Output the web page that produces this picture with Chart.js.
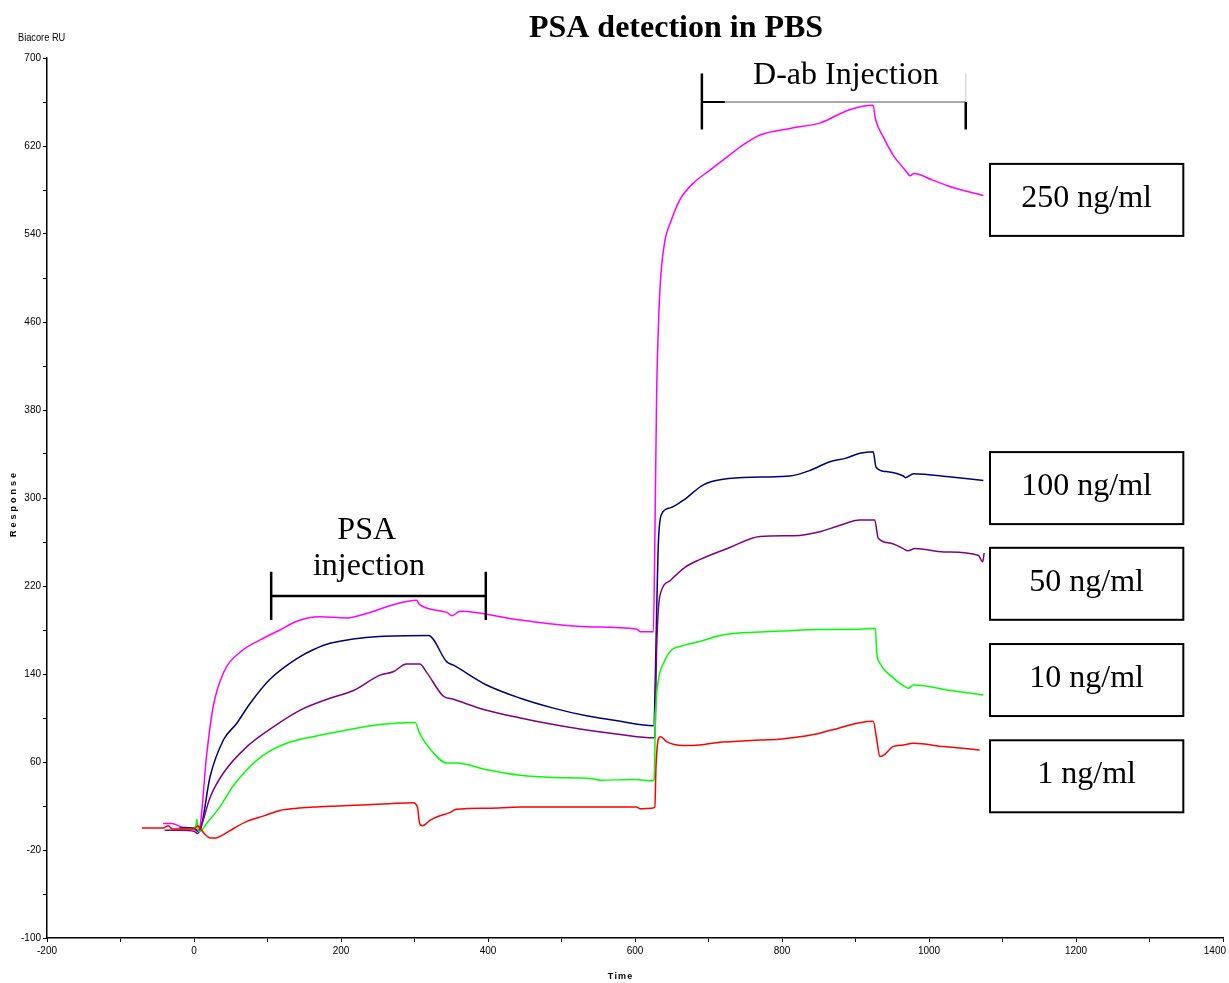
<!DOCTYPE html>
<html>
<head>
<meta charset="utf-8">
<title>PSA detection in PBS</title>
<script src="https://cdn.jsdelivr.net/npm/chart.js@4.4.1/dist/chart.umd.min.js"></script>
<style>
  html, body { margin: 0; padding: 0; background: #fff; }
  #chartPsa { display: block; }
</style>
</head>
<body>
<canvas id="chartPsa" width="1229" height="983"></canvas>
<script>
// Sensorgram points [time, RU]
const ng250 = [[-42,4],[-30,4],[-17,1],[-5,0],[5,-2],[8,1],[17,65],[26,110],[40,141],[63,160],[90,171],[117,180],[140,188],[171,192],[208,191],[235,195],[271,203],[303,207],[307,203],[344,196],[351,193],[362,197],[444,189],[534,183],[602,181],[607,178.5],[625,178.5],[627,262],[629.5,398],[632,459],[635,501],[641,535],[648,550],[661,571],[679,586],[702,598],[729,612],[747,621],[770,630],[811,636],[852,641],[892,653],[924,657],[927,645],[938,628],[951,612],[965,600],[970,596],[974,593],[980,595],[1005,589],[1029,583],[1074,575]];

const ng100 = [[-20,0],[0,0],[5,-3],[8,-2],[22,47],[40,80],[58,95],[76,113],[103,135],[140,154],[162,162],[185,168],[319,175],[344,151],[353,148],[398,130],[444,118],[489,109],[534,102],[580,97],[625,93],[632,262],[636,285],[648,291],[666,298],[693,312],[720,317],[770,319],[811,320],[838,325],[865,333],[886,336],[906,340.6],[924,342],[928,328],[942,324],[965,320],[968,318.5],[979,322],[1030,319],[1074,316]];

const ng50 = [[-40,-2],[-20,-2],[0,-3],[5,-5],[8,-2],[22,28],[40,50],[72,74],[108,92],[144,107],[185,118],[217,125],[253,139],[271,142],[289,149],[307,149],[317,141],[339,120],[353,117],[398,107],[444,100],[489,94],[534,89],[580,85],[625,82],[627,83],[629.5,165],[632,201],[636,216],[648,225],[668,237],[688,244],[729,255],[770,265],[824,266],[850,269],[878,275],[906,280],[926,280],[931,263.4],[947,259],[965,254],[971,252],[981,254],[1020,251],[1067,248],[1073,242],[1075,250]];

const ng10 = [[-22,-1],[0,-1],[3,4],[4,8],[6,-3],[8,-3],[17,4],[35,19],[53,38],[72,53],[94,66],[126,77],[162,83],[208,89],[253,94],[301,96],[307,86],[321,72],[344,59],[357,59],[398,53],[444,48],[489,46],[540,45],[553,43.5],[600,44],[625,43],[626,44],[628,104],[632,135],[639,150],[650,162],[661,165],[688,169.5],[716,175],[760,178],[797,179],[850,180.5],[906,180.6],[927,181.5],[929,159],[933,150],[947,139],[967,128.5],[972,127],[979,130],[1030,125],[1074,121]];

const ng1 = [[-71,0],[-55,0],[-42,0],[-35,2],[-29,-1],[-15,-1],[1,-1],[5,2],[8,0],[14,-5],[22,-9],[30,-9],[40,-6],[55,0],[72,6],[95,11],[117,16],[140,18],[162,19],[195,20],[230,21],[265,22],[298,23],[304,19],[307,4],[311,2],[321,7],[330,10],[348,14],[357,17],[400,18],[444,19],[490,19],[534,19],[570,19],[602,19],[607,17.6],[623,18],[627,19],[628.6,56],[632,81.5],[635,83],[643,78.5],[666,75],[688,75.5],[716,78],[745,79],[770,80],[800,81],[824,83],[850,86],[878,91],[906,95.7],[924,97],[929,80],[933,65],[938,66],[951,74],[965,75.5],[979,77],[1020,74],[1069,71]];

const concLabels = ['250 ng/ml', '100 ng/ml', '50 ng/ml', '10 ng/ml', '1 ng/ml'];
const xTickLabels = [-200, 0, 200, 400, 600, 800, 1000, 1200, 1400];
const yTickLabels = [-100, -20, 60, 140, 220, 300, 380, 460, 540, 620, 700];

const SERIF = '"Liberation Serif", "Times New Roman", serif';
const SANS_N = '"Liberation Sans Narrow", "Liberation Sans", Arial, sans-serif';

function toPoints(pairs) {
    return pairs.map(p => ({ x: p[0], y: p[1] }));
}

function lineSet(label, pairs, color) {
    return {
        label: label,
        data: toPoints(pairs),
        borderColor: color,
        borderWidth: 1.5,
        pointRadius: 0,
        fill: false,
        cubicInterpolationMode: 'monotone',
    };
}

// texto con espaciado entre letras (canvas)
function spacedText(ctx, text, x, y, spacing) {
    let total = 0;
    for (const ch of text) total += ctx.measureText(ch).width + spacing;
    total -= spacing;
    let cx = x - total / 2;
    for (const ch of text) {
        ctx.fillText(ch, cx, y);
        cx += ctx.measureText(ch).width + spacing;
    }
}

const psaDecor = {
    id: 'psaDecor',
    afterDraw(chart) {
        const ctx = chart.ctx;
        const sx = chart.scales.x, sy = chart.scales.y;
        const px = v => sx.getPixelForValue(v);
        const py = v => sy.getPixelForValue(v);
        ctx.save();
        ctx.fillStyle = '#000';
        ctx.strokeStyle = '#000';

        // last x label would be clipped at the canvas edge: draw it right-aligned
        const lastX = xTickLabels[xTickLabels.length - 1];
        ctx.font = '10px ' + SANS_N;
        ctx.textAlign = 'right';
        ctx.textBaseline = 'middle';
        ctx.fillText(String(lastX), Math.min(px(lastX) + 12, chart.width - 3), sx.top + 13);

        // title
        ctx.font = 'bold 32px ' + SERIF;
        ctx.textAlign = 'center';
        ctx.textBaseline = 'alphabetic';
        ctx.fillText('PSA detection in PBS', 676, 37);

        // Biacore RU (condensed)
        ctx.save();
        ctx.translate(18, 41);
        ctx.scale(0.84, 1);
        ctx.font = '11px "Liberation Sans", Arial, sans-serif';
        ctx.textAlign = 'left';
        ctx.fillText('Biacore RU', 0, 0);
        ctx.restore();

        // axis titles
        ctx.font = 'bold 9px "Liberation Sans", Arial, sans-serif';
        ctx.textAlign = 'left';
        ctx.textBaseline = 'middle';
        spacedText(ctx, 'Time', 620, 977, 1.2);
        ctx.save();
        ctx.translate(14, 505);
        ctx.rotate(-Math.PI / 2);
        spacedText(ctx, 'Response', 0, 0, 3);
        ctx.restore();

        // PSA injection bracket
        ctx.lineWidth = 2.5;
        ctx.beginPath();
        ctx.moveTo(px(105), py(233)); ctx.lineTo(px(105), py(189));
        ctx.moveTo(px(397), py(233)); ctx.lineTo(px(397), py(189));
        ctx.moveTo(px(105), py(211)); ctx.lineTo(px(397), py(211));
        ctx.stroke();
        ctx.font = '32px ' + SERIF;
        ctx.textAlign = 'center';
        ctx.textBaseline = 'alphabetic';
        ctx.fillText('PSA', px(235), 539);
        ctx.fillText('injection', px(238), 575);

        // D-ab injection bracket
        const dL = px(691), dR = px(1050), dMid = py(660);
        ctx.lineWidth = 2.5;
        ctx.beginPath();
        ctx.moveTo(dL, py(686)); ctx.lineTo(dL, py(635));
        ctx.moveTo(dR, dMid); ctx.lineTo(dR, py(635));
        ctx.stroke();
        ctx.lineWidth = 2;
        ctx.beginPath();
        ctx.moveTo(dL, dMid); ctx.lineTo(dL + 23, dMid);
        ctx.stroke();
        ctx.lineWidth = 1;
        ctx.strokeStyle = '#555';
        ctx.beginPath();
        ctx.moveTo(dL + 23, dMid); ctx.lineTo(dR, dMid);
        ctx.stroke();
        ctx.strokeStyle = '#c8c8c8';
        ctx.beginPath();
        ctx.moveTo(dR, py(686)); ctx.lineTo(dR, dMid);
        ctx.stroke();
        ctx.fillText('D-ab Injection', px(887), 84);

        // concentration boxes
        const boxCenters = [571, 309, 222, 134.5, 47];
        ctx.strokeStyle = '#000';
        ctx.lineWidth = 2;
        concLabels.forEach((txt, i) => {
            const cy = py(boxCenters[i]);
            const left = px(1083), right = px(1346);
            ctx.strokeRect(left, cy - 36, right - left, 72);
            ctx.fillText(txt, (left + right) / 2, cy + 7);
        });

        ctx.restore();
    }
};

function renderPsaChart() {
    const canvas = document.getElementById('chartPsa');
    if (typeof Chart === 'undefined') {
        console.error('Chart.js no está cargado.');
        return;
    }
    const tickFont = { family: SANS_N, size: 10 };
    const lastX = xTickLabels[xTickLabels.length - 1];

    new Chart(canvas.getContext('2d'), {
        type: 'line',
        data: {
            // ng1 first so it is painted on top
            datasets: [
                lineSet('1 ng/ml', ng1, '#ff0000'),
                lineSet('10 ng/ml', ng10, '#00ff00'),
                lineSet('50 ng/ml', ng50, '#800080'),
                lineSet('100 ng/ml', ng100, '#000080'),
                lineSet('250 ng/ml', ng250, '#ff00ff'),
            ],
        },
        options: {
            responsive: false,
            animation: false,
            layout: { padding: { top: 58, right: 6, left: 0, bottom: 0 } },
            plugins: {
                legend: { display: false },
                tooltip: { enabled: false },
            },
            scales: {
                x: {
                    type: 'linear',
                    min: -200,
                    max: 1400,
                    border: { color: '#000', width: 1.5 },
                    grid: { drawOnChartArea: false, drawTicks: true, tickLength: 4, color: '#000' },
                    ticks: {
                        stepSize: 100,
                        autoSkip: false,
                        maxRotation: 0,
                        padding: 3,
                        color: '#000',
                        font: tickFont,
                        // the last label is drawn by the plugin
                        callback: v => (xTickLabels.includes(v) && v !== lastX) ? String(v) : '',
                    },
                    afterFit(scale) {
                        scale.height = 45;
                        scale.paddingLeft = 0;
                        scale.paddingRight = 0;
                    },
                },
                y: {
                    min: -100,
                    max: 700,
                    border: { color: '#000', width: 1.5 },
                    grid: { drawOnChartArea: false, drawTicks: true, tickLength: 4, color: '#000' },
                    ticks: {
                        stepSize: 40,
                        autoSkip: false,
                        padding: 2,
                        color: '#000',
                        font: tickFont,
                        callback: v => yTickLabels.includes(v) ? String(v) : '',
                    },
                    afterFit(scale) {
                        scale.width = 47;
                        scale.paddingTop = 0;
                        scale.paddingBottom = 0;
                    },
                },
            },
        },
        plugins: [psaDecor],
    });
}

document.addEventListener('DOMContentLoaded', renderPsaChart);
</script>
</body>
</html>
